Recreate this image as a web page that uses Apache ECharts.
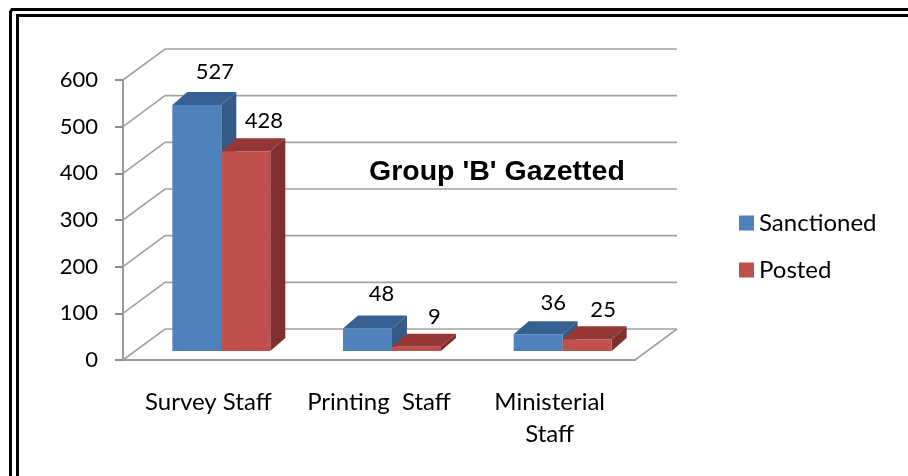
<!DOCTYPE html>
<html>
<head>
<meta charset="utf-8">
<style>html,body{margin:0;padding:0;background:#fff}#main{width:908px;height:476px}</style>
<script src="https://cdn.jsdelivr.net/npm/echarts@6/dist/echarts.min.js"></script>
</head>
<body>
<div id="main"></div>
<script>
var categories = ['Survey Staff', 'Printing  Staff', 'Ministerial\nStaff'];
var sanctioned = [527, 48, 36];
var posted = [428, 9, 25];
var yTicks = [0, 100, 200, 300, 400, 500, 600];

// fake 3d, depth of the walls and of the bars in pixels
var wallDx = 42, wallDy = -31;
var barDx = 15, barDy = -13, baseLift = 9;
var labelFont = 'Lato';
// hand placed data labels, pixels from the default spot
var sanctionedNudge = [[0, 0], [-4, -2], [-3, 2]];
var postedNudge = [[0, 3], [0, 3], [-2, 4]];

var myChart = echarts.init(document.getElementById('main'));

function poly(points, color) {
    return { type: 'polygon', shape: { points: points }, style: { fill: color } };
}

function barSeries(name, values, nudge, slot, front, top, side) {
    return {
        name: name,
        type: 'custom',
        coordinateSystem: 'cartesian2d',
        itemStyle: { color: front },
        clip: false,
        z: 3,
        data: values,
        renderItem: function (params, api) {
            var i = params.dataIndex;
            var band = api.size([1, 0])[0];
            var w = band * 0.287;
            var centre = api.coord([i, 0])[0] + band * 0.076;
            var x0 = centre + (slot - 1) * w;
            var x1 = x0 + w;
            var y0 = api.coord([i, 0])[1] - baseLift;
            var y1 = api.coord([i, api.value(1)])[1] - baseLift;
            return {
                type: 'group',
                children: [
                    poly([[x1, y0], [x1 + barDx, y0 + barDy], [x1 + barDx, y1 + barDy], [x1, y1]], side),
                    poly([[x0, y1], [x0 + barDx, y1 + barDy], [x1 + barDx, y1 + barDy], [x1, y1]], top),
                    poly([[x0, y0], [x1, y0], [x1, y1], [x0, y1]], front),
                    {
                        type: 'text',
                        x: (x0 + x1) / 2 + 18 + nudge[i][0],
                        y: y1 - 33 + nudge[i][1],
                        style: {
                            text: String(api.value(1)),
                            font: '22px ' + labelFont,
                            fill: '#000',
                            textAlign: 'center',
                            textVerticalAlign: 'middle'
                        }
                    }
                ]
            };
        },
        encode: { x: 0, y: 1 }
    };
}

var option = {
    animation: false,
    backgroundColor: '#fff',
    textStyle: { fontFamily: labelFont },
    title: {
        text: "Group 'B' Gazetted",
        left: 364,
        top: 153,
        textStyle: { fontFamily: 'Liberation Sans', fontWeight: 'bold', fontSize: 28.5, color: '#000' }
    },
    legend: {
        data: ['Sanctioned', 'Posted'],
        orient: 'vertical',
        left: 734,
        top: 206,
        itemWidth: 15,
        itemHeight: 15,
        itemGap: 23,
        icon: 'rect',
        textStyle: { fontFamily: labelFont, fontSize: 24, color: '#000' }
    },
    grid: { left: 123, right: 273, top: 80, bottom: 116 },
    xAxis: {
        type: 'category',
        data: categories,
        axisLine: { lineStyle: { color: '#9a9a9a', width: 2 } },
        axisTick: { length: 9, lineStyle: { color: '#8c8c8c', width: 2 } },
        axisLabel: { color: '#000', fontSize: 24, margin: 26, lineHeight: 32, interval: 0, hideOverlap: false, fontFamily: labelFont }
    },
    yAxis: {
        type: 'value',
        min: 0,
        max: 600,
        interval: 100,
        axisLine: { show: true, lineStyle: { color: '#9a9a9a', width: 2 } },
        axisTick: { show: true, length: 8, lineStyle: { color: '#8c8c8c', width: 2 } },
        axisLabel: { color: '#000', fontSize: 22, margin: 25, fontFamily: labelFont },
        splitLine: { show: false }
    },
    graphic: [
        // double frame, open at the right and the bottom
        { type: 'polyline', silent: true, shape: { points: [[10.5, 480], [10.5, 12], [12, 9.5], [910, 9.5]] }, style: { fill: 'none', stroke: '#000', lineWidth: 3 } },
        { type: 'polyline', silent: true, shape: { points: [[17.5, 480], [17.5, 15.5], [910, 15.5]] }, style: { fill: 'none', stroke: '#000', lineWidth: 3 } }
    ],
    series: [
        {
            // side wall and back wall lines
            name: 'walls',
            type: 'custom',
            clip: false,
            silent: true,
            z: 1,
            data: yTicks.map(function (v) { return [0, v]; }),
            encode: { x: 0, y: 1 },
            renderItem: function (params, api) {
                var left = api.coord([0, api.value(1)]);
                var band = api.size([1, 0])[0];
                var startX = left[0] - band / 2;
                var endX = startX + band * categories.length;
                var y = left[1];
                var style = { stroke: '#a2a2a2', lineWidth: 1.6, fill: 'none' };
                var children = [{
                    type: 'polyline',
                    shape: { points: [[startX, y], [startX + wallDx, y + wallDy], [endX + wallDx, y + wallDy]] },
                    style: style
                }];
                if (api.value(1) === 0) {
                    children.push({
                        type: 'line',
                        shape: { x1: endX, y1: y, x2: endX + wallDx, y2: y + wallDy },
                        style: style
                    });
                }
                return { type: 'group', children: children };
            }
        },
        barSeries('Sanctioned', sanctioned.map(function (v, i) { return [i, v]; }), sanctionedNudge, 0, '#4f81bd', '#376092', '#365a86'),
        barSeries('Posted', posted.map(function (v, i) { return [i, v]; }), postedNudge, 1, '#c0504d', '#953735', '#7f2f2d')
    ]
};
myChart.setOption(option);
window.addEventListener('resize', function () {
    myChart.resize();
});
</script>
</body>
</html>
